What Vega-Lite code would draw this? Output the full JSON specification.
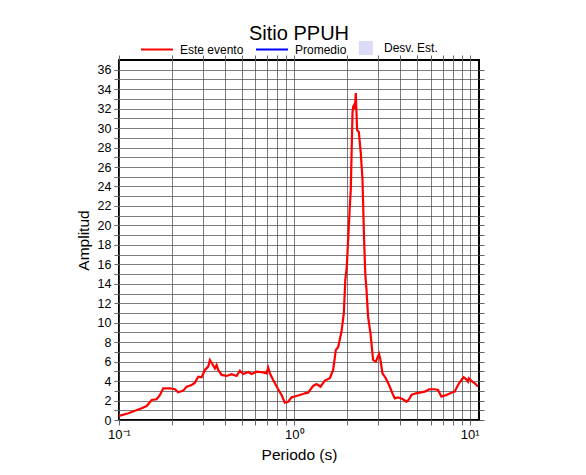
{
  "$schema": "https://vega.github.io/schema/vega-lite/v6.json",
  "autosize": "none",
  "width": 360,
  "height": 360,
  "padding": {"left": 119, "top": 60, "right": 107, "bottom": 55},
  "background": "white",
  "title": {"text": "Sitio PPUH", "font": "Liberation Sans", "fontSize": 20, "fontWeight": "normal", "color": "black", "anchor": "middle", "frame": "group", "offset": -2},
  "config": {
    "view": {"stroke": "black", "strokeWidth": 2},
    "font": "Liberation Sans",
    "legend": {"symbolSize": 1024, "symbolType": "stroke"},
    "axis": {"domain": false, "tickColor": "#666", "tickSize": 5, "labelColor": "black", "labelFont": "Liberation Sans", "titleFont": "Liberation Sans", "titleColor": "black", "titleFontWeight": "normal", "gridColor": "#444", "gridWidth": 0.7, "gridOpacity": 1}
  },
  "data": {"values": [
    {"periodo": 0.1000, "amplitud": 0.41, "serie": "Este evento"},
    {"periodo": 0.1130, "amplitud": 0.69, "serie": "Este evento"},
    {"periodo": 0.1234, "amplitud": 0.96, "serie": "Este evento"},
    {"periodo": 0.1347, "amplitud": 1.20, "serie": "Este evento"},
    {"periodo": 0.1438, "amplitud": 1.44, "serie": "Este evento"},
    {"periodo": 0.1536, "amplitud": 2.06, "serie": "Este evento"},
    {"periodo": 0.1640, "amplitud": 2.13, "serie": "Este evento"},
    {"periodo": 0.1713, "amplitud": 2.57, "serie": "Este evento"},
    {"periodo": 0.1788, "amplitud": 3.26, "serie": "Este evento"},
    {"periodo": 0.1953, "amplitud": 3.26, "serie": "Este evento"},
    {"periodo": 0.2085, "amplitud": 3.16, "serie": "Este evento"},
    {"periodo": 0.2177, "amplitud": 2.85, "serie": "Este evento"},
    {"periodo": 0.2325, "amplitud": 3.02, "serie": "Este evento"},
    {"periodo": 0.2431, "amplitud": 3.43, "serie": "Este evento"},
    {"periodo": 0.2596, "amplitud": 3.60, "serie": "Este evento"},
    {"periodo": 0.2710, "amplitud": 3.84, "serie": "Este evento"},
    {"periodo": 0.2831, "amplitud": 4.45, "serie": "Este evento"},
    {"periodo": 0.2960, "amplitud": 4.39, "serie": "Este evento"},
    {"periodo": 0.3090, "amplitud": 5.14, "serie": "Este evento"},
    {"periodo": 0.3227, "amplitud": 5.49, "serie": "Este evento"},
    {"periodo": 0.3300, "amplitud": 6.17, "serie": "Este evento"},
    {"periodo": 0.3446, "amplitud": 5.60, "serie": "Este evento"},
    {"periodo": 0.3524, "amplitud": 5.30, "serie": "Este evento"},
    {"periodo": 0.3603, "amplitud": 5.66, "serie": "Este evento"},
    {"periodo": 0.3679, "amplitud": 5.14, "serie": "Este evento"},
    {"periodo": 0.3847, "amplitud": 4.63, "serie": "Este evento"},
    {"periodo": 0.4107, "amplitud": 4.53, "serie": "Este evento"},
    {"periodo": 0.4386, "amplitud": 4.70, "serie": "Este evento"},
    {"periodo": 0.4684, "amplitud": 4.53, "serie": "Este evento"},
    {"periodo": 0.4893, "amplitud": 5.07, "serie": "Este evento"},
    {"periodo": 0.5109, "amplitud": 4.73, "serie": "Este evento"},
    {"periodo": 0.5456, "amplitud": 4.94, "serie": "Este evento"},
    {"periodo": 0.5704, "amplitud": 4.73, "serie": "Este evento"},
    {"periodo": 0.6091, "amplitud": 4.97, "serie": "Este evento"},
    {"periodo": 0.6640, "amplitud": 4.90, "serie": "Este evento"},
    {"periodo": 0.6943, "amplitud": 4.80, "serie": "Este evento"},
    {"periodo": 0.7090, "amplitud": 5.38, "serie": "Este evento"},
    {"periodo": 0.7250, "amplitud": 4.80, "serie": "Este evento"},
    {"periodo": 0.7571, "amplitud": 4.12, "serie": "Este evento"},
    {"periodo": 0.8083, "amplitud": 3.16, "serie": "Este evento"},
    {"periodo": 0.8453, "amplitud": 2.57, "serie": "Este evento"},
    {"periodo": 0.8828, "amplitud": 1.78, "serie": "Este evento"},
    {"periodo": 0.9221, "amplitud": 1.88, "serie": "Este evento"},
    {"periodo": 0.9639, "amplitud": 2.33, "serie": "Este evento"},
    {"periodo": 1.0292, "amplitud": 2.47, "serie": "Este evento"},
    {"periodo": 1.0747, "amplitud": 2.57, "serie": "Este evento"},
    {"periodo": 1.1223, "amplitud": 2.67, "serie": "Este evento"},
    {"periodo": 1.1477, "amplitud": 2.74, "serie": "Este evento"},
    {"periodo": 1.1985, "amplitud": 2.81, "serie": "Este evento"},
    {"periodo": 1.2800, "amplitud": 3.50, "serie": "Este evento"},
    {"periodo": 1.3384, "amplitud": 3.70, "serie": "Este evento"},
    {"periodo": 1.4106, "amplitud": 3.43, "serie": "Este evento"},
    {"periodo": 1.4920, "amplitud": 4.05, "serie": "Este evento"},
    {"periodo": 1.5938, "amplitud": 4.29, "serie": "Este evento"},
    {"periodo": 1.6643, "amplitud": 5.14, "serie": "Este evento"},
    {"periodo": 1.7243, "amplitud": 7.20, "serie": "Este evento"},
    {"periodo": 1.7771, "amplitud": 7.47, "serie": "Este evento"},
    {"periodo": 1.8578, "amplitud": 9.09, "serie": "Este evento"},
    {"periodo": 1.9150, "amplitud": 10.98, "serie": "Este evento"},
    {"periodo": 1.9530, "amplitud": 14.4, "serie": "Este evento"},
    {"periodo": 1.9915, "amplitud": 15.8, "serie": "Este evento"},
    {"periodo": 2.0715, "amplitud": 21.9, "serie": "Este evento"},
    {"periodo": 2.0988, "amplitud": 23.7, "serie": "Este evento"},
    {"periodo": 2.1462, "amplitud": 31.6, "serie": "Este evento"},
    {"periodo": 2.1632, "amplitud": 32.2, "serie": "Este evento"},
    {"periodo": 2.1917, "amplitud": 32.4, "serie": "Este evento"},
    {"periodo": 2.2120, "amplitud": 31.9, "serie": "Este evento"},
    {"periodo": 2.2412, "amplitud": 33.6, "serie": "Este evento"},
    {"periodo": 2.2797, "amplitud": 29.8, "serie": "Este evento"},
    {"periodo": 2.3313, "amplitud": 29.6, "serie": "Este evento"},
    {"periodo": 2.3933, "amplitud": 27.4, "serie": "Este evento"},
    {"periodo": 2.4473, "amplitud": 24.7, "serie": "Este evento"},
    {"periodo": 2.4991, "amplitud": 18.5, "serie": "Este evento"},
    {"periodo": 2.5390, "amplitud": 15.0, "serie": "Este evento"},
    {"periodo": 2.5792, "amplitud": 13.4, "serie": "Este evento"},
    {"periodo": 2.6337, "amplitud": 10.6, "serie": "Este evento"},
    {"periodo": 2.7180, "amplitud": 8.90, "serie": "Este evento"},
    {"periodo": 2.8119, "amplitud": 6.17, "serie": "Este evento"},
    {"periodo": 2.9134, "amplitud": 6.00, "serie": "Este evento"},
    {"periodo": 3.0422, "amplitud": 6.79, "serie": "Este evento"},
    {"periodo": 3.0986, "amplitud": 6.17, "serie": "Este evento"},
    {"periodo": 3.1806, "amplitud": 4.80, "serie": "Este evento"},
    {"periodo": 3.3214, "amplitud": 4.29, "serie": "Este evento"},
    {"periodo": 3.4686, "amplitud": 3.60, "serie": "Este evento"},
    {"periodo": 3.6268, "amplitud": 2.74, "serie": "Este evento"},
    {"periodo": 3.7378, "amplitud": 2.23, "serie": "Este evento"},
    {"periodo": 3.9038, "amplitud": 2.33, "serie": "Este evento"},
    {"periodo": 4.1677, "amplitud": 2.13, "serie": "Este evento"},
    {"periodo": 4.3580, "amplitud": 1.88, "serie": "Este evento"},
    {"periodo": 4.5090, "amplitud": 2.13, "serie": "Este evento"},
    {"periodo": 4.6535, "amplitud": 2.57, "serie": "Este evento"},
    {"periodo": 4.9238, "amplitud": 2.74, "serie": "Este evento"},
    {"periodo": 5.1892, "amplitud": 2.81, "serie": "Este evento"},
    {"periodo": 5.5413, "amplitud": 2.91, "serie": "Este evento"},
    {"periodo": 5.8633, "amplitud": 3.16, "serie": "Este evento"},
    {"periodo": 6.3184, "amplitud": 3.16, "serie": "Este evento"},
    {"periodo": 6.5980, "amplitud": 3.09, "serie": "Este evento"},
    {"periodo": 6.8986, "amplitud": 2.40, "serie": "Este evento"},
    {"periodo": 7.3656, "amplitud": 2.57, "serie": "Este evento"},
    {"periodo": 7.8651, "amplitud": 2.81, "serie": "Este evento"},
    {"periodo": 8.2131, "amplitud": 2.91, "serie": "Este evento"},
    {"periodo": 8.5770, "amplitud": 3.60, "serie": "Este evento"},
    {"periodo": 8.9687, "amplitud": 4.12, "serie": "Este evento"},
    {"periodo": 9.2435, "amplitud": 4.39, "serie": "Este evento"},
    {"periodo": 9.5765, "amplitud": 4.18, "serie": "Este evento"},
    {"periodo": 9.7792, "amplitud": 3.94, "serie": "Este evento"},
    {"periodo": 9.9083, "amplitud": 4.29, "serie": "Este evento"},
    {"periodo": 10.36, "amplitud": 3.94, "serie": "Este evento"},
    {"periodo": 10.82, "amplitud": 3.70, "serie": "Este evento"},
    {"periodo": 11.15, "amplitud": 3.43, "serie": "Este evento"}
  ]},
  "resolve": {"axis": {"x": "independent", "y": "independent"}},
  "layer": [
    {
      "mark": {"type": "line", "strokeWidth": 2.2, "clip": true},
      "encoding": {
        "x": {"field": "periodo", "type": "quantitative",
          "scale": {"type": "log", "domain": [0.1, 11.3], "nice": false},
          "axis": {"orient": "bottom", "values": [0.1,0.2,0.3,0.4,0.5,0.6,0.7,0.8,0.9,1,2,3,4,5,6,7,8,9,10],
            "labelExpr": "datum.value == 0.1 ? '10⁻¹' : datum.value == 1 ? '10⁰' : datum.value == 10 ? '10¹' : ''",
            "labelFontSize": 13, "labelPadding": 3, "grid": true, "title": "Periodo (s)", "titleFontSize": 15.5, "titlePadding": 6, "labelFlush": false, "labelOverlap": false}},
        "y": {"field": "amplitud", "type": "quantitative",
          "scale": {"domain": [0, 37], "nice": false, "zero": true},
          "axis": {"orient": "left", "values": [0,1,2,3,4,5,6,7,8,9,10,11,12,13,14,15,16,17,18,19,20,21,22,23,24,25,26,27,28,29,30,31,32,33,34,35,36],
            "labelExpr": "datum.value % 2 === 0 ? datum.label : ''", "labelFontSize": 12.5, "labelPadding": 3, "grid": true,
            "title": "Amplitud", "titleFontSize": 15.5, "titlePadding": 6, "labelOverlap": false, "labelFlush": false}},
        "color": {"field": "serie", "type": "nominal",
          "scale": {"domain": ["Este evento", "Promedio", "Desv. Est."], "range": ["#ff0000", "#0000ff", "#dcdcf8"]},
          "legend": {"title": null, "orient": "none", "legendX": 32, "legendY": -18, "direction": "horizontal",
            "symbolStrokeWidth": 2, "labelFontSize": 12, "labelFont": "Liberation Sans", "labelColor": "black",
            "labelOffset": 17, "columnPadding": 8,
            "encode": {
              "symbols": {"update": {
                "shape": {"signal": "datum.value === 'Desv. Est.' ? 'M-0.1,-0.4H0.7V0.4H-0.1Z' : 'stroke'"},
                "fill": {"signal": "datum.value === 'Desv. Est.' ? '#dcdcf8' : 'transparent'"},
                "stroke": {"signal": "datum.value === 'Desv. Est.' ? '#222222' : datum.value === 'Promedio' ? '#0000ff' : '#ff0000'"},
                "strokeWidth": {"signal": "datum.value === 'Desv. Est.' ? 1.2 : 2"},
                "opacity": {"value": 1},
                "strokeOpacity": {"value": 1},
                "fillOpacity": {"value": 1}
              }}
            }}}
      }
    },
    {
      "mark": {"type": "line", "strokeOpacity": 0},
      "encoding": {
        "x": {"field": "periodo", "type": "quantitative",
          "axis": {"orient": "top", "values": [0.1,0.2,0.3,0.4,0.5,0.6,0.7,0.8,0.9,1,2,3,4,5,6,7,8,9,10], "labels": false, "grid": false, "title": null}},
        "y": {"field": "amplitud", "type": "quantitative",
          "axis": {"orient": "right", "values": [0,1,2,3,4,5,6,7,8,9,10,11,12,13,14,15,16,17,18,19,20,21,22,23,24,25,26,27,28,29,30,31,32,33,34,35,36], "labels": false, "grid": false, "title": null}}
      }
    }
  ]
}
